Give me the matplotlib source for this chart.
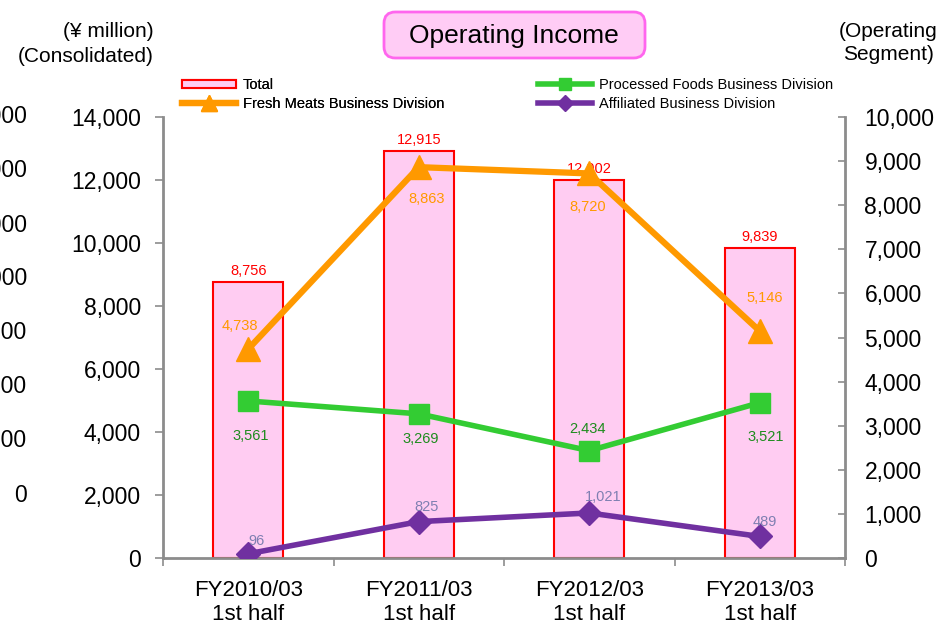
import matplotlib
matplotlib.use("Agg")
import matplotlib.pyplot as plt
from matplotlib.patches import FancyBboxPatch
from matplotlib.lines import Line2D
from matplotlib.patches import Patch
import numpy as np

plt.rcParams['font.family'] = ['Liberation Sans', 'DejaVu Sans']

# ---- data ----
categories = ["FY2010/03\n1st half", "FY2011/03\n1st half", "FY2012/03\n1st half", "FY2013/03\n1st half"]
total = [8756, 12915, 12002, 9839]
fresh_meats = [4738, 8863, 8720, 5146]
processed_foods = [3561, 3269, 2434, 3521]
affiliated = [96, 825, 1021, 489]
left_ticks = [0, 2000, 4000, 6000, 8000, 10000, 12000, 14000]
right_ticks = [0, 1000, 2000, 3000, 4000, 5000, 6000, 7000, 8000, 9000, 10000]
ghost_labels = ["14,000", "12,000", "10,000", "8,000", "6,000", "4,000", "2,000", "0"]

W, H = 941, 624
fig = plt.figure(figsize=(W / 100, H / 100), dpi=100)

def fx(px):
    return px / W

def fy(py):
    return 1 - py / H

ax = fig.add_axes([fx(163), fy(558), fx(845) - fx(163), fy(117) - fy(558)])
ax2 = ax.twinx()

x = np.arange(len(categories))
gray = '#8c8c8c'

bars = ax.bar(x, total, width=0.41, color='#FFCCF2', edgecolor='#FF0000', linewidth=1.5, zorder=2)
ax.set_xlim(-0.5, len(categories) - 0.5)
ax.set_ylim(0, 14000)
ax.set_yticks(left_ticks)
ax.set_yticklabels([f"{v:,}" for v in left_ticks])
ax2.set_ylim(0, 10000)
ax2.set_yticks(right_ticks)
ax2.set_yticklabels([f"{v:,}" for v in right_ticks])

ax.set_xticks(x)
ax.set_xticklabels(categories, fontsize=16, linespacing=1.15)
ax.set_xticks(np.arange(len(categories) + 1) - 0.5, minor=True)
ax.tick_params(axis='x', which='major', length=0, pad=16)
ax.tick_params(axis='x', which='minor', length=6, color=gray, width=1.2, direction='out')
ax.tick_params(axis='y', length=6, color=gray, width=1.2, direction='out', labelsize=16.5, pad=10)
ax2.tick_params(axis='y', length=5, color=gray, width=1.2, direction='in', labelsize=16.5, pad=14)

for a in (ax, ax2):
    a.spines['top'].set_visible(False)
    for s in ('left', 'right', 'bottom'):
        a.spines[s].set_color(gray)
        a.spines[s].set_linewidth(2)
ax2.spines['left'].set_visible(False)
ax2.spines['bottom'].set_visible(False)
ax.spines['right'].set_visible(False)

l_fresh, = ax2.plot(x, fresh_meats, color='#FF9900', lw=4.5, marker='^', markersize=17, zorder=4)
l_proc, = ax2.plot(x, processed_foods, color='#33CC33', lw=4, marker='s', markersize=14, zorder=4)
l_aff, = ax2.plot(x, affiliated, color='#7030A0', lw=4, marker='D', markersize=12, zorder=4)

lab_fs = 10.5
tot_off = [(0, 4), (0, 4), (0, 4), (0, 4)]
fresh_off = [(-8, 23), (8, -32), (-2, -34), (5, 33)]
proc_off = [(2, -35), (2, -25), (-2, 22), (6, -34)]
aff_off = [(8, 13), (8, 15), (14, 16), (5, 14)]

for i, v in enumerate(total):
    ax.annotate(f"{v:,}", (x[i], v), xytext=tot_off[i], textcoords='offset pixels',
                ha='center', va='bottom', color='#FF0000', fontsize=lab_fs, zorder=5)
for i, v in enumerate(fresh_meats):
    ax2.annotate(f"{v:,}", (x[i], v), xytext=fresh_off[i], textcoords='offset pixels',
                 ha='center', va='center', color='#FF9900', fontsize=lab_fs, zorder=5)
for i, v in enumerate(processed_foods):
    ax2.annotate(f"{v:,}", (x[i], v), xytext=proc_off[i], textcoords='offset pixels',
                 ha='center', va='center', color='#1E8C1E', fontsize=lab_fs, zorder=5)
for i, v in enumerate(affiliated):
    ax2.annotate(f"{v:,}", (x[i], v), xytext=aff_off[i], textcoords='offset pixels',
                 ha='center', va='center', color='#7F7FB2', fontsize=lab_fs, zorder=5)

# Title box
box = FancyBboxPatch((fx(384), fy(58)), fx(261), 46 / H,
                     boxstyle='round,pad=0,rounding_size=0.012', mutation_aspect=W / H,
                     transform=fig.transFigure, facecolor='#FFCCF5', edgecolor='#FF66EE', linewidth=2)
fig.patches.append(box)
fig.text(fx(514), fy(36), "Operating Income", ha='center', va='center', fontsize=19)

# Axis unit labels
fig.text(fx(154), fy(44), "(¥ million)\n(Consolidated)", ha='right', va='center', fontsize=15, linespacing=1.35)
fig.text(fx(888), fy(43), "(Operating\nSegment)", ha='center', va='center', fontsize=15, linespacing=1.3)

# ghost labels at left edge (clipped by the figure edge, as in the reference)
for i, s in enumerate(ghost_labels):
    fig.text(fx(27), fy(117 + 54 * i), s, ha='right', va='center', fontsize=16.5)

# Legends
h_total = Patch(facecolor='#FFCCF2', edgecolor='#FF0000', linewidth=1.5)
h_fresh = Line2D([], [], color='#FF9900', lw=4.5, marker='^', markersize=12)
h_proc = Line2D([], [], color='#33CC33', lw=4, marker='s', markersize=9)
h_aff = Line2D([], [], color='#7030A0', lw=4, marker='D', markersize=8)
leg_kw = dict(loc='upper left', frameon=False, fontsize=10.5, handlelength=3.7, handleheight=0.5,
              labelspacing=0.35, handletextpad=0.45, borderpad=0, borderaxespad=0)
leg1 = fig.legend([h_total, h_fresh], ["Total", "Fresh Meats Business Division"],
                  bbox_to_anchor=(fx(182), fy(78)), **leg_kw)
leg2 = fig.legend([h_proc, h_aff], ["Processed Foods Business Division", "Affiliated Business Division"],
                  bbox_to_anchor=(fx(538), fy(78)), **leg_kw)
fig.add_artist(leg1)

fig.savefig("out.png", dpi=100)
